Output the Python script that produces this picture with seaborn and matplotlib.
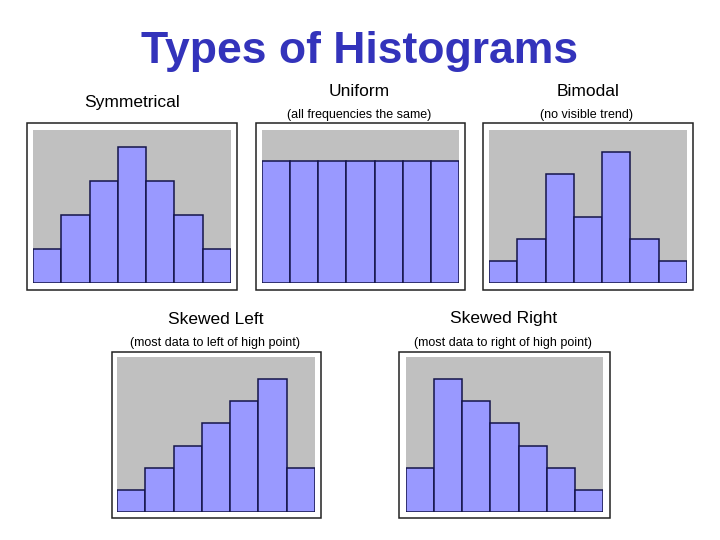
import numpy as np
import pandas as pd
import seaborn as sns
import matplotlib.pyplot as plt
from matplotlib.patches import Rectangle

sns.set_style('white')
plt.rcParams['font.family'] = ['Liberation Sans', 'DejaVu Sans']
plt.rcParams['text.color'] = 'black'

bins = [1, 2, 3, 4, 5, 6, 7]
symmetrical = [1, 2, 3, 4, 3, 2, 1]
uniform = [4, 4, 4, 4, 4, 4, 4]
bimodal = [1, 2, 5, 3, 6, 2, 1]
skewed_left = [1, 2, 3, 4, 5, 6, 2]
skewed_right = [2, 6, 5, 4, 3, 2, 1]

# pixel boxes: frame (x0, y0, x1, y1), plot area (x0, y0, x1, y1), ymax
panels = [
    (symmetrical, (27, 123, 237, 290), (33, 130, 231, 283), 4.5),
    (uniform, (256, 123, 465, 290), (262, 130, 459, 283), 5),
    (bimodal, (483, 123, 693, 290), (489, 130, 687, 283), 7),
    (skewed_left, (112, 352, 321, 518), (117, 357, 315, 512), 7),
    (skewed_right, (399, 352, 610, 518), (406, 357, 603, 512), 7),
]

W, H = 720, 540
fig = plt.figure(figsize=(7.2, 5.4), dpi=100)


def fbox(x0, y0, x1, y1):
    return [x0 / W, 1 - y1 / H, (x1 - x0) / W, (y1 - y0) / H]


for vals, frame, area, ymax in panels:
    l, b, w, h = fbox(*frame)
    fig.patches.append(Rectangle((l, b), w, h, transform=fig.transFigure,
                                 facecolor='white', edgecolor='#222222', lw=1.1, zorder=-5))
    ax = fig.add_axes(fbox(*area))
    ax.set_zorder(2)
    ax.set_facecolor('#c0c0c0')
    df = pd.DataFrame({'bin': bins, 'freq': vals})
    sns.barplot(data=df, x='bin', y='freq', ax=ax, width=1, color='#9999ff',
                saturation=1, edgecolor='#14144a', linewidth=1.1)
    ax.set_xlim(-0.5, 6.5)
    ax.set_ylim(0, ymax)
    ax.set_xticks([])
    ax.set_yticks([])
    ax.set_xlabel('')
    ax.set_ylabel('')
    for s in ax.spines.values():
        s.set_visible(False)

fig.text(360 / W, 1 - 52 / H, 'Types of Histograms', ha='center', va='center',
         fontsize=32, fontweight='bold', color='#3333bb')

big = 12.5
small = 9
fig.text(132 / W, 1 - 103 / H, 'Symmetrical', ha='center', va='center', fontsize=big)
fig.text(359 / W, 1 - 91 / H, 'Uniform', ha='center', va='center', fontsize=big)
fig.text(359 / W, 1 - 115 / H, '(all frequencies the same)', ha='center', va='center', fontsize=small)
fig.text(588 / W, 1 - 91 / H, 'Bimodal', ha='center', va='center', fontsize=big)
fig.text(587 / W, 1 - 115 / H, '(no visible trend)', ha='center', va='center', fontsize=small)
fig.text(216 / W, 1 - 319 / H, 'Skewed Left', ha='center', va='center', fontsize=big)
fig.text(215 / W, 1 - 343 / H, '(most data to left of high point)', ha='center', va='center', fontsize=small)
fig.text(504 / W, 1 - 319 / H, 'Skewed Right', ha='center', va='center', fontsize=big)
fig.text(503 / W, 1 - 343 / H, '(most data to right of high point)', ha='center', va='center', fontsize=small)

fig.savefig('out.png', dpi=100)
